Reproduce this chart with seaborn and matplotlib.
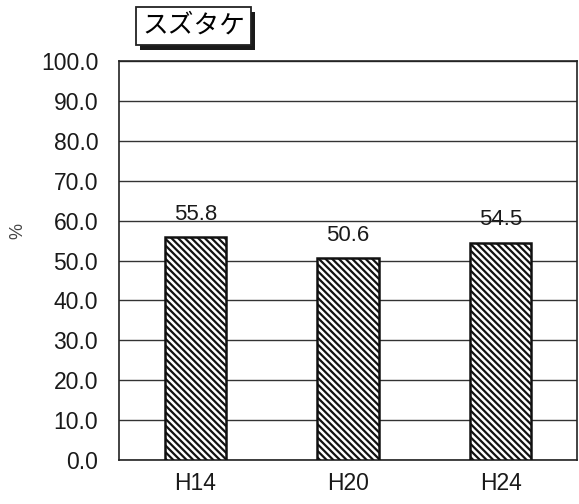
import matplotlib
matplotlib.use("Agg")
import matplotlib.pyplot as plt
import seaborn as sns
import pandas as pd
from matplotlib.ticker import FixedLocator
from matplotlib.patches import Rectangle

categories = ["H14", "H20", "H24"]
values = [55.8, 50.6, 54.5]
yticks = [0, 10, 20, 30, 40, 50, 60, 70, 80, 90, 100]
title = "スズタケ"
ylabel = "%"

sns.set_theme(style="white")
plt.rcParams['font.family'] = ['Liberation Sans', 'Noto Sans CJK JP', 'DejaVu Sans']
plt.rcParams['hatch.linewidth'] = 1.6

df = pd.DataFrame({"cat": categories, "val": values})

fig = plt.figure(figsize=(5.79, 5.04), dpi=100)
ax = fig.add_axes([119/579, 1-460/504, (577-119)/579, (460-61)/504])

sns.barplot(data=df, x="cat", y="val", ax=ax, width=0.4, color="white",
            edgecolor="#111111", linewidth=1.8, hatch="\\\\\\\\\\", zorder=3)

ax.set_xlim(-0.5, 2.5)
ax.set_ylim(0, 100)
ax.set_yticks(yticks)
ax.set_yticklabels([f"{v:.1f}" for v in yticks], fontsize=16.5, color="#1a1a1a")
ax.yaxis.grid(True, color="#333333", linewidth=1.0, zorder=0)
ax.xaxis.grid(False)
ax.tick_params(axis="y", length=0, pad=15)
ax.tick_params(axis="x", which="major", length=0, pad=9, labelsize=16.5, labelcolor="#1a1a1a")
ax.xaxis.set_minor_locator(FixedLocator([0.5, 1.5]))
ax.tick_params(axis="x", which="minor", direction="in", length=8, width=1, color="#333333")
ax.set_xlabel("")
ax.set_ylabel("")
for s in ax.spines.values():
    s.set_color("#222222")
    s.set_linewidth(1.2)
    s.set_visible(True)

for i, v in enumerate(values):
    ax.text(i, v + 4.3, f"{v:.1f}", ha="center", va="baseline", fontsize=16, color="#1a1a1a")

fig.text(18/579, 1-231/504, ylabel, rotation=90, ha="center", va="center", fontsize=13, color="#444444")

# title box with shadow
t = fig.text(193.5/579, 1-26/504, title, ha="center", va="center", fontsize=18.5, color="black",
             family=['Noto Sans CJK JP', 'DejaVu Sans'], zorder=5,
             bbox=dict(boxstyle="square,pad=0.25", facecolor="white", edgecolor="#222222", linewidth=1.3))
fig.canvas.draw()
bb = t.get_bbox_patch().get_window_extent()
fig.patches.append(Rectangle((bb.x0 + 4, bb.y0 - 5), bb.width, bb.height, transform=None,
                             facecolor="#1a1a1a", edgecolor="none", zorder=1, figure=fig))

fig.savefig("out.png", dpi=100)
